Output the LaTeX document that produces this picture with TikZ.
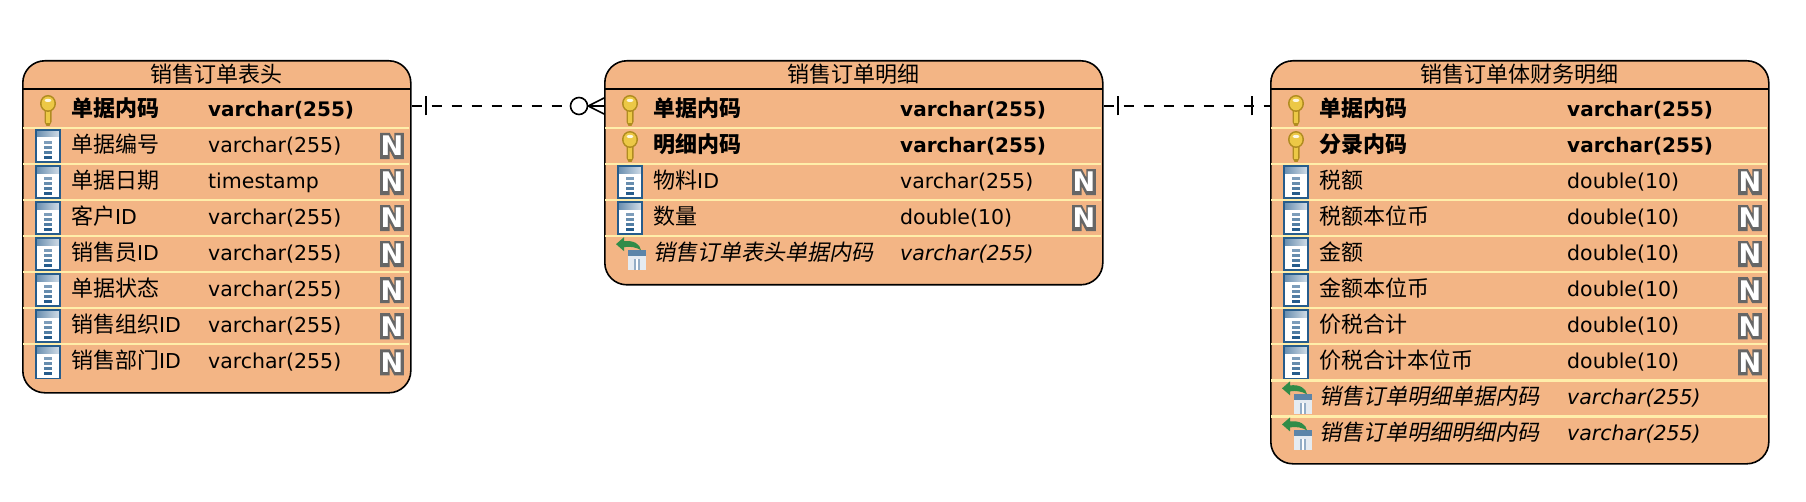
\documentclass[tikz,border=0pt]{standalone}
\usepackage{fontspec}
\setmainfont{DejaVu Sans}
\newfontfamily\cjk{Noto Sans CJK SC}
\newfontfamily\cjkb{Noto Sans CJK SC Bold}
\newfontfamily\cjki{Noto Sans CJK SC}[FakeSlant=0.2]
\newfontfamily\nout{DejaVu Sans Bold}[FakeBold=14]
\newfontfamily\nin{DejaVu Sans Bold}
\newcommand\sz{\fontsize{20.5}{24}\selectfont}
\newcommand\cjksz{\fontsize{22}{24}\selectfont}
\definecolor{tblfill}{RGB}{243,181,133}
\definecolor{sepline}{RGB}{255,238,170}
\definecolor{iconblue}{RGB}{38,92,140}
\definecolor{keygold}{RGB}{236,200,70}
\definecolor{keydark}{RGB}{176,140,32}
\definecolor{fkgreen}{RGB}{48,140,72}
\tikzset{
  tbl/.style={draw=black,line width=1.6pt,fill=tblfill,rounded corners=22pt,anchor=north west,inner sep=0pt},
  title/.style={anchor=center,inner sep=0pt,font=\cjk\cjksz},
  cell/.style={anchor=base west,inner sep=0pt,font=\sz,text=black},
  rel/.style={black,line width=1.6pt,dash pattern=on 10pt off 10pt},
  endmark/.style={black,line width=1.6pt},
  sepl/.style={sepline,line width=2.4pt},
  hdl/.style={black,line width=1.4pt}
}
% icons: origin is the left edge of the table and the upper separator of the row
\newcommand\keyicon[2]{\begin{scope}[shift={(#1,#2)}]
  \fill[keydark] (22.5,15) -- (29.5,15) -- (29.5,30) -- (27.5,34) -- (24.5,34) -- (22.5,30) -- cycle;
  \fill[keygold] (24,15) rectangle (27.5,31);
  \fill[keydark] (26,11.5) ellipse (8 and 8.5);
  \fill[keygold] (26,11.5) ellipse (6.4 and 6.9);
  \fill[white!85!keygold] (26,8.5) ellipse (3.4 and 1.6);
\end{scope}}
\newcommand\colicon[2]{\begin{scope}[shift={(#1,#2)}]
  \fill[white] (14,2) rectangle (38,34);
  \shade[left color=iconblue!70!white,right color=iconblue!20!white] (14,2) rectangle (38,9);
  \draw[iconblue,line width=1.6pt] (14,2) rectangle (38,34);
  \foreach \yy/\cc in {13/60,18/70,23/80,28/100}{\fill[iconblue!\cc!white] (22,\yy) rectangle (30,\yy+2.6);}
\end{scope}}
\newcommand\fkicon[2]{\begin{scope}[shift={(#1,#2)}]
  \fill[white!88!iconblue] (24,15) rectangle (42,34);
  \fill[iconblue!75!white] (24,14) rectangle (42,20);
  \fill[iconblue!50!white] (30,23) rectangle (36,34);
  \fill[white] (32.4,23) rectangle (33.6,34);
  \fill[fkgreen] (12,8) -- (20,1) -- (20,5) .. controls (30,4) and (36,8) .. (37,14) .. controls (32,11) and (26,10) .. (20,11) -- (20,15) -- cycle;
\end{scope}}
\newcommand\nbadge[3]{\node[inner sep=0pt,text=black!60,font=\nout\fontsize{30}{30}\selectfont] (#1o) at (#2,#3) {N};
  \node[inner sep=0pt,text=white,font=\nin\fontsize{27}{27}\selectfont] (#1i) at (#2,#3) {N};}
% \trow{id}{left}{typex}{row}{name}{type}
\newcommand\trow[6]{%
  \pgfmathsetmacro\by{116.5+36.05*(#4-1)}%
  \node[cell] (#1n#4) at ({#2+49},\by) {#5};
  \node[cell] (#1t#4) at (#3,\by) {#6};}
\newcommand\upy[1]{\pgfmathsetmacro\uy{128+36.05*(#1-2)}}
\newcommand\pkrow[6]{\trow{#1}{#2}{#3}{#4}{\bfseries\cjkb\cjksz #5}{\fontsize{20}{24}\selectfont\bfseries #6}\upy{#4}\keyicon{#2}{\uy}}
\newcommand\colrow[7]{\trow{#1}{#2}{#3}{#4}{#5}{#6}\upy{#4}\colicon{#2}{\uy}\nbadge{#1b#4}{#7}{\uy+18}}
\newcommand\fkrow[6]{\trow{#1}{#2}{#3}{#4}{\cjki\cjksz #5}{\itshape #6}\upy{#4}\fkicon{#2}{\uy}}
\newcommand\cn[1]{{\cjk\cjksz #1}}
\begin{document}
\begin{tikzpicture}[x=1pt,y=-1pt]
\useasboundingbox (0,0) rectangle (1806,502);
% tables
\node[tbl,minimum width=388pt,minimum height=332pt] (t1) at (22,60) {};
\node[tbl,minimum width=498pt,minimum height=224pt] (t2) at (604,60) {};
\node[tbl,minimum width=498pt,minimum height=403pt] (t3) at (1270,60) {};
\node[title] (h1) at (216,74) {销售订单表头};
\node[title] (h2) at (853,74) {销售订单明细};
\node[title] (h3) at (1519,74) {销售订单体财务明细};
\draw[hdl] (22,89) -- (410,89);
\draw[hdl] (604,89) -- (1102,89);
\draw[hdl] (1270,89) -- (1768,89);
\foreach \i in {0,...,6}{\draw[sepl] (23,128+36.05*\i) -- (409,128+36.05*\i);}
\foreach \i in {0,...,3}{\draw[sepl] (605,128+36.05*\i) -- (1101,128+36.05*\i);}
\foreach \i in {0,...,8}{\draw[sepl] (1271,128+36.05*\i) -- (1767,128+36.05*\i);}
% table 1
\pkrow{a}{22}{208}{1}{单据内码}{varchar(255)}
\colrow{a}{22}{208}{2}{\cn{单据编号}}{varchar(255)}{392}
\colrow{a}{22}{208}{3}{\cn{单据日期}}{timestamp}{392}
\colrow{a}{22}{208}{4}{\cn{客户}ID}{varchar(255)}{392}
\colrow{a}{22}{208}{5}{\cn{销售员}ID}{varchar(255)}{392}
\colrow{a}{22}{208}{6}{\cn{单据状态}}{varchar(255)}{392}
\colrow{a}{22}{208}{7}{\cn{销售组织}ID}{varchar(255)}{392}
\colrow{a}{22}{208}{8}{\cn{销售部门}ID}{varchar(255)}{392}
% table 2
\pkrow{b}{604}{900}{1}{单据内码}{varchar(255)}
\pkrow{b}{604}{900}{2}{明细内码}{varchar(255)}
\colrow{b}{604}{900}{3}{\cn{物料}ID}{varchar(255)}{1084}
\colrow{b}{604}{900}{4}{\cn{数量}}{double(10)}{1084}
\fkrow{b}{604}{900}{5}{销售订单表头单据内码}{varchar(255)}
% table 3
\pkrow{c}{1270}{1567}{1}{单据内码}{varchar(255)}
\pkrow{c}{1270}{1567}{2}{分录内码}{varchar(255)}
\colrow{c}{1270}{1567}{3}{\cn{税额}}{double(10)}{1750}
\colrow{c}{1270}{1567}{4}{\cn{税额本位币}}{double(10)}{1750}
\colrow{c}{1270}{1567}{5}{\cn{金额}}{double(10)}{1750}
\colrow{c}{1270}{1567}{6}{\cn{金额本位币}}{double(10)}{1750}
\colrow{c}{1270}{1567}{7}{\cn{价税合计}}{double(10)}{1750}
\colrow{c}{1270}{1567}{8}{\cn{价税合计本位币}}{double(10)}{1750}
\fkrow{c}{1270}{1567}{9}{销售订单明细单据内码}{varchar(255)}
\fkrow{c}{1270}{1567}{10}{销售订单明细明细内码}{varchar(255)}
% connector 1
\node[circle,draw=black,line width=1.6pt,fill=white,minimum size=17pt,inner sep=0pt] (o1) at (579,106) {};
\draw[rel] (t1.east |- o1) -- (o1.west);
\coordinate (k1) at (426,106);
\draw[endmark] ([yshift=-9.5pt]k1) -- ([yshift=9.5pt]k1);
\coordinate (f1) at (t2.west |- o1);
\draw[endmark] (o1.east) -- (f1);
\draw[endmark] (o1.east) -- ([yshift=8pt]f1);
\draw[endmark] (o1.east) -- ([yshift=-8pt]f1);
% connector 2
\coordinate (r2) at (1200,106);
\draw[rel] (t2.east |- r2) -- (t3.west |- r2);
\coordinate (k2) at (1118,106);
\coordinate (k3) at (1252,106);
\draw[endmark] ([yshift=-9.5pt]k2) -- ([yshift=9.5pt]k2);
\draw[endmark] ([yshift=-9.5pt]k3) -- ([yshift=9.5pt]k3);
\end{tikzpicture}
\end{document}
